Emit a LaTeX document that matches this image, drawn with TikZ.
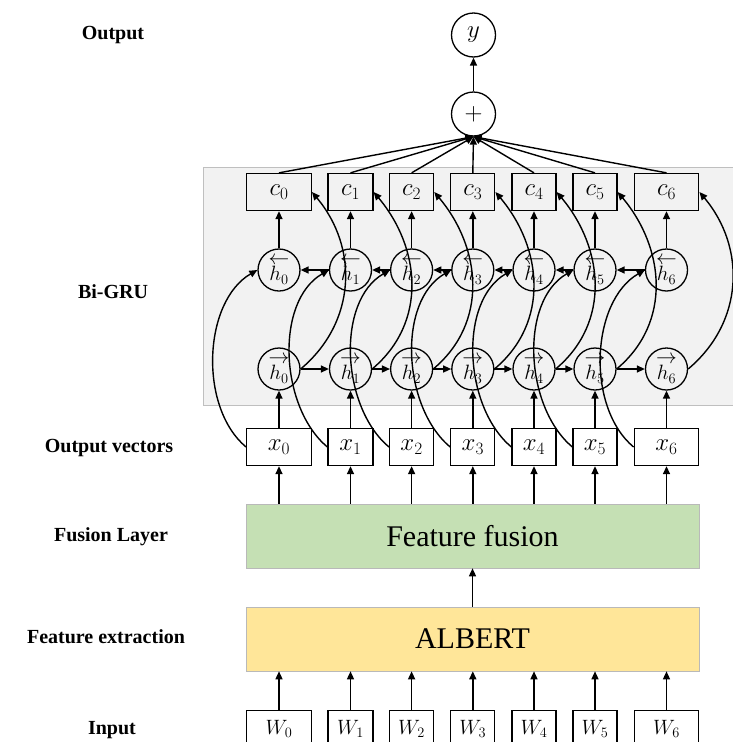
\documentclass[tikz,border=0pt]{standalone}
\usepackage{fontspec}
\setmainfont{Liberation Serif}
\usetikzlibrary{arrows.meta,calc}
\definecolor{grubg}{HTML}{F2F2F2}
\definecolor{gruborder}{HTML}{BFBFBF}
\definecolor{fusiongreen}{HTML}{C5E0B4}
\definecolor{albertyellow}{HTML}{FFE699}
\begin{document}
\begin{tikzpicture}[x=1pt,y=1pt,
  arr/.style={-{Triangle[length=8pt,width=7pt]}, line width=1.4pt},
  box/.style={draw, line width=1.3pt, minimum height=37pt, inner sep=0pt, font=\fontsize{24}{24}\selectfont},
  hcirc/.style={draw, circle, minimum size=42pt, line width=1.3pt, inner sep=0pt, font=\fontsize{21}{21}\selectfont},
  lab/.style={font=\fontsize{20}{22}\selectfont\bfseries},
  bigbox/.style={draw=gray!55, line width=0.6pt, minimum width=453pt, minimum height=64pt, inner sep=0pt, font=\fontsize{30}{30}\selectfont}
]
\useasboundingbox (0,0) rectangle (733,-742);
\fill[grubg, draw=gruborder, line width=0.8pt] (203,-167) rectangle (733,-405);

% labels
\node[lab] (lout) at (113,-35) {Output};
\node[lab] (lgru) at (113,-292) {Bi-GRU};
\node[lab] (lvec) at (109,-448) {Output vectors};
\node[lab] (lfus) at (111,-537) {Fusion Layer};
\node[lab] (lfea) at (106,-637) {Feature extraction};
\node[lab] (linp) at (112,-730) {Input};

% top
\node[draw, circle, minimum size=44pt, line width=1.3pt, inner sep=0pt, font=\fontsize{26}{26}\selectfont] (y) at (473.5,-35) {$y$};
\node[draw, circle, minimum size=44pt, line width=1.3pt, inner sep=0pt, font=\fontsize{26}{26}\selectfont] (plus) at (473.5,-114) {$+$};
\draw[arr] (plus.north) -- (y.south);

% big boxes
\node[bigbox, fill=fusiongreen] (fusion) at (472.5,-536) {Feature fusion};
\node[bigbox, fill=albertyellow] (albert) at (472.5,-639) {ALBERT};
\draw[arr] (albert.north) -- (fusion.south);

\foreach \i/\cx/\w in {0/279/64.6, 1/350.5/45, 2/411.6/44, 3/472.8/44, 4/534/44, 5/595/44, 6/666.5/64.6}{
  \node[box, minimum width=\w pt] (c\i) at (\cx,-192) {$c_{\i}$};
  \node[hcirc] (bh\i) at (\cx,-270) {$\stackrel{\textstyle\leftarrow}{h_{\i}}$};
  \node[hcirc] (fh\i) at (\cx,-369) {$\stackrel{\textstyle\rightarrow}{h_{\i}}$};
  \node[box, fill=white, minimum width=\w pt] (x\i) at (\cx,-447) {$x_{\i}$};
  \node[box, fill=white, minimum width=\w pt, font=\fontsize{21}{21}\selectfont] (W\i) at (\cx,-729) {$W_{\i}$};
  \draw[arr] (c\i.north) -- (plus.south);
  \draw[arr] (bh\i.north) -- (c\i.south);
  \draw[arr] (x\i.north) -- (fh\i.south);
  \draw[arr] (x\i |- fusion.north) -- (x\i.south);
  \draw[arr] (W\i.north) -- (W\i |- albert.south);
  \draw[arr] (x\i.west) to[out=140,in=210,looseness=0.9] (bh\i.west);
  \draw[arr] (fh\i.east) to[out=40,in=-50,looseness=1.05] (c\i.east);
}
\foreach \i/\j in {0/1,1/2,2/3,3/4,4/5,5/6}{
  \draw[arr] (fh\i.east) -- (fh\j.west);
  \draw[arr] (bh\j.west) -- (bh\i.east);
}
\end{tikzpicture}
\end{document}
